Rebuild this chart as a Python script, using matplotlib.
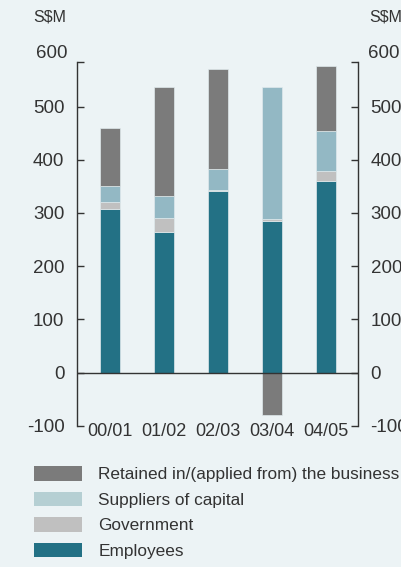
import numpy as np
import matplotlib.pyplot as plt
from matplotlib.patches import Patch

plt.rcParams["font.family"] = ["Liberation Sans", "DejaVu Sans"]

years = ["00/01", "01/02", "02/03", "03/04", "04/05"]
employees = [308, 265, 341, 284, 360]
government = [13, 26, 3, 5, 18]
suppliers = [30, 40, 39, 248, 76]
retained = [108, 205, 187, -80, 123]

yticks = [-100, 0, 100, 200, 300, 400, 500]
ytop = 583  # spine ends a bit below the "600" label

bg = "#ecf3f5"
c_ret = "#7b7b7b"
c_sup = "#93b8c4"
c_gov = "#c0c0c0"
c_emp = "#237185"
txt = "#333333"

fig = plt.figure(figsize=(4.01, 5.67), dpi=100, facecolor=bg)
ax = fig.add_axes([0.192, 0.249, 0.701, 0.641])
ax.set_facecolor(bg)

x = np.arange(len(years))
w = 0.37
emp = np.array(employees)
gov = np.array(government)
sup = np.array(suppliers)
ret = np.array(retained)
ec = "#dfe9ec"
ax.bar(x, emp, w, color=c_emp, edgecolor=ec, linewidth=0.5)
ax.bar(x, gov, w, bottom=emp, color=c_gov, edgecolor=ec, linewidth=0.5)
ax.bar(x, sup, w, bottom=emp + gov, color=c_sup, edgecolor=ec, linewidth=0.5)
ret_bottom = np.where(ret > 0, emp + gov + sup, 0)
ax.bar(x, ret, w, bottom=ret_bottom, color=c_ret, edgecolor=ec, linewidth=0.5)

ax.axhline(0, color=txt, linewidth=1.0, zorder=3)

ax.set_xlim(-0.61, 4.6)
ax.set_ylim(-100, ytop)

for s in ["top", "bottom"]:
    ax.spines[s].set_visible(False)
for s in ["left", "right"]:
    ax.spines[s].set_color(txt)
    ax.spines[s].set_linewidth(1.0)

ax.set_yticks(yticks + [ytop])
ax.set_yticklabels([str(v) for v in yticks] + [""])
ax.tick_params(axis="y", direction="in", length=5, width=1.0, color=txt,
               left=True, right=True, labelleft=True, labelright=True,
               labelsize=13.5, labelcolor=txt, pad=9)

ax.set_xticks(x)
ax.set_xticklabels(years)
ax.tick_params(axis="x", length=0, pad=-2, labelsize=13, labelcolor=txt)

# top "600" labels and units
off = 9.5 / 54
ax.text(-0.61 - off, 600, "600", ha="right", va="center",
        fontsize=13.5, color=txt, clip_on=False)
ax.text(4.6 + off, 600, "600", ha="left", va="center",
        fontsize=13.5, color=txt, clip_on=False)
fig.text(33 / 401, 1 - 17 / 567, "S$M", ha="left", va="center", fontsize=11.5, color=txt)
fig.text(369 / 401, 1 - 17 / 567, "S$M", ha="left", va="center", fontsize=11.5, color=txt)

handles = [Patch(facecolor=c_ret), Patch(facecolor="#b5cfd3"),
           Patch(facecolor=c_gov), Patch(facecolor=c_emp)]
labels = ["Retained in/(applied from) the business", "Suppliers of capital",
          "Government", "Employees"]
fig.legend(handles, labels, loc="upper left", bbox_to_anchor=(34 / 401, 1 - 466 / 567),
           frameon=False, fontsize=12.4, handlelength=2.8, handleheight=0.93,
           handletextpad=0.93, labelspacing=0.54, borderpad=0, borderaxespad=0,
           labelcolor=txt)

fig.savefig("out.png", dpi=100, facecolor=bg)
